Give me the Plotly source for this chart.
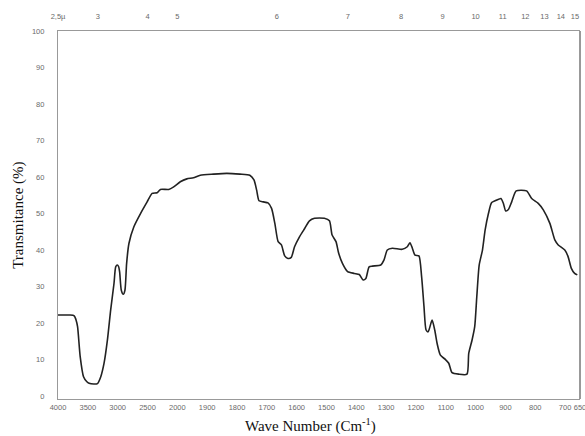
import plotly.graph_objects as go

# ---- data ----
wavenumber = [4000, 3900, 3800, 3728, 3700, 3672, 3628, 3572, 3520, 3478, 3400, 3339, 3283, 3228,
              3172, 3117, 3061, 3033, 3006, 2985, 2967, 2939, 2906, 2878, 2850, 2811, 2728, 2617,
              2506, 2422, 2339, 2283, 2144, 2061, 1990, 1968, 1946, 1923, 1879, 1834, 1790, 1757,
              1743, 1734, 1726, 1712, 1696, 1684, 1673, 1662, 1651, 1640, 1629, 1618, 1607, 1590,
              1573, 1557, 1540, 1507, 1490, 1481, 1468, 1459, 1446, 1429, 1407, 1390, 1377, 1368,
              1357, 1346, 1318, 1307, 1296, 1279, 1246, 1229, 1220, 1212, 1203, 1190, 1181, 1173,
              1166, 1159, 1146, 1137, 1129, 1118, 1101, 1090, 1079, 1057, 1029, 1023, 1012, 1003,
              996, 988, 977, 968, 957, 946, 923, 915, 907, 899, 890, 879, 864, 829, 812, 790, 773,
              751, 734, 723, 701, 690, 679, 668, 659]
transmittance = [22.2, 22.2, 22.2, 22.0, 21.0, 19.0, 10.8, 5.3, 4.0, 3.5, 3.3, 3.4, 5.3, 9.0,
                 15.3, 23.6, 30.9, 35.4, 35.9, 35.5, 34.0, 29.0, 27.9, 29.0, 36.3, 41.8, 46.4, 50.0,
                 53.2, 55.5, 55.7, 56.6, 56.6, 57.3, 58.7, 59.5, 59.8, 60.5, 60.8, 61.0, 60.8, 60.5,
                 59.2, 56.4, 53.5, 53.2, 52.9, 51.4, 47.3, 42.3, 41.4, 38.4, 37.7, 38.0, 40.9, 43.7,
                 45.9, 48.0, 48.7, 48.7, 48.0, 44.1, 42.3, 39.1, 36.3, 34.1, 33.6, 33.3, 31.8, 32.2,
                 35.4, 35.6, 35.9, 37.3, 40.0, 40.5, 40.2, 40.9, 42.0, 40.5, 38.6, 38.4, 32.7, 24.5,
                 18.1, 17.6, 20.8, 18.1, 14.4, 11.2, 10.0, 9.0, 6.4, 6.0, 6.0, 11.7, 15.3, 19.0,
                 27.2, 35.9, 40.0, 45.5, 50.0, 53.0, 53.9, 54.1, 52.8, 50.7, 51.1, 53.2, 56.2, 56.2,
                 54.1, 52.8, 51.0, 47.3, 42.7, 41.4, 40.0, 38.2, 35.0, 33.6, 33.2]

bottom_ticks = [4000, 3500, 3000, 2500, 2000, 1900, 1800, 1700, 1600, 1500, 1400, 1300, 1200,
                1100, 1000, 900, 800, 700, 650]
bottom_labels = ["4000", "3500", "3000", "2500", "2000", "1900", "1800", "1700", "1600", "1500",
                 "1400", "1300", "1200", "1100", "1000", "900", "800", "700", "650"]
micron_values = [2.5, 3, 4, 5, 6, 7, 8, 9, 10, 11, 12, 13, 14, 15]
micron_labels = ["2,5µ", "3", "4", "5", "6", "7", "8", "9", "10", "11", "12", "13", "14", "15"]
y_ticks = [0, 10, 20, 30, 40, 50, 60, 70, 80, 90, 100]


# Instrument chart-paper scale: 500 cm-1 per division above 2000, 100 cm-1 per division below
def paper_scale(wn):
    if wn >= 2000:
        return (4000 - wn) / 500.0
    return 4.0 + (2000 - wn) / 100.0


xs = [paper_scale(w) for w in wavenumber]
bottom_pos = [paper_scale(w) for w in bottom_ticks]
top_pos = [paper_scale(10000.0 / m) for m in micron_values]

x_range = [0, paper_scale(650)]

fig = go.Figure()
fig.add_trace(go.Scatter(x=xs, y=transmittance, mode="lines",
                         line=dict(color="#222222", width=1.6, shape="spline", smoothing=0.6),
                         showlegend=False, hoverinfo="skip"))
fig.add_trace(go.Scatter(x=top_pos, y=[None] * len(top_pos), xaxis="x2", mode="lines",
                         showlegend=False, hoverinfo="skip"))

tick_font = dict(family="Liberation Sans, Arial, sans-serif", size=7.5, color="#6a6a6a")

fig.update_layout(
    width=585, height=436,
    margin=dict(l=58, r=5, t=31, b=37, autoexpand=False),
    paper_bgcolor="white", plot_bgcolor="white",
    xaxis=dict(range=x_range, tickmode="array", tickvals=bottom_pos, ticktext=bottom_labels,
               showgrid=False, zeroline=False, showline=True, linecolor="#999999", linewidth=1.2,
               ticks="", tickfont=tick_font, ticklabelstandoff=1, automargin=False,
               ticklabeloverflow="allow"),
    xaxis2=dict(range=x_range, overlaying="x", side="top", tickmode="array",
                tickvals=top_pos, ticktext=micron_labels, showgrid=False, zeroline=False,
                showline=True, linecolor="#999999", linewidth=1.2, ticks="",
                tickfont=tick_font, ticklabelstandoff=8, automargin=False,
                ticklabeloverflow="allow"),
    yaxis=dict(range=[-0.8, 100], tickmode="array", tickvals=y_ticks,
               ticktext=[str(v) for v in y_ticks], showgrid=False, zeroline=False,
               showline=True, linecolor="#999999", linewidth=1.2, ticks="",
               tickfont=tick_font, ticklabelstandoff=11, automargin=False),
    shapes=[dict(type="line", xref="paper", yref="paper", x0=1, x1=1, y0=0, y1=1,
                 line=dict(color="#555555", width=1.2))],
    annotations=[
        dict(text="Wave Number (Cm<sup>-1</sup>)", xref="paper", yref="paper",
             x=0.483, y=-0.042, xanchor="center", yanchor="top", showarrow=False,
             font=dict(family="Liberation Serif, Times New Roman, serif", size=15, color="#111111")),
        dict(text="Transmitance (%)", xref="paper", yref="paper", x=-0.077, y=0.50,
             xanchor="center", yanchor="middle", textangle=-90, showarrow=False,
             font=dict(family="Liberation Serif, Times New Roman, serif", size=15, color="#111111")),
    ],
)

fig.write_html("out.html", config={"displayModeBar": False},
               post_script="document.body.style.margin='0';document.body.style.overflow='hidden';")
